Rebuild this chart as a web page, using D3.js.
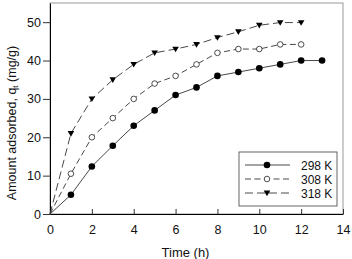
<!DOCTYPE html>
<html>
<head>
<meta charset="utf-8">
<script src="https://cdn.jsdelivr.net/npm/d3@7"></script>
<style>
  body { margin: 0; background: #fff; }
  svg { display: block; font-family: "Liberation Sans", Arial, sans-serif; }
</style>
</head>
<body>
<div id="chart"></div>
<script>
// Data
const time298 = [0, 1, 2, 3, 4, 5, 6, 7, 8, 9, 10, 11, 12, 13];
const q298 = [0, 5, 12.4, 17.8, 23, 27, 31, 33, 36, 37, 38, 39, 40, 40];
const time308 = [0, 1, 2, 3, 4, 5, 6, 7, 8, 9, 10, 11, 12];
const q308 = [0, 10.5, 20, 25, 30, 34, 36, 39, 42, 43, 43, 44.2, 44.2];
const time318 = [0, 1, 2, 3, 4, 5, 6, 7, 8, 9, 10, 11, 12];
const q318 = [0, 21, 30, 35, 39, 42, 43, 44.2, 46, 47.5, 49.2, 49.9, 49.9];
const seriesNames = ["298 K", "308 K", "318 K"];
const xTicks = [0, 2, 4, 6, 8, 10, 12, 14];
const yTicks = [0, 10, 20, 30, 40, 50];

const width = 352, height = 259;
const margin = { top: 3, right: 9, bottom: 45, left: 50 };
const w = width - margin.left - margin.right;
const h = height - margin.top - margin.bottom;

const svg = d3.select("#chart").append("svg")
    .attr("width", width)
    .attr("height", height);
const g = svg.append("g").attr("transform", `translate(${margin.left},${margin.top})`);

const x = d3.scaleLinear().domain([0, 14]).range([0, w]);
const y = d3.scaleLinear().domain([0, 55]).range([h, 0]);

// frame (top/right in grey)
g.append("rect")
    .attr("width", w).attr("height", h)
    .attr("fill", "none").attr("stroke", "#999").attr("stroke-width", 1);

const xAxis = g.append("g")
    .attr("transform", `translate(0,${h})`)
    .call(d3.axisBottom(x).tickValues(xTicks).tickSizeInner(-5).tickSizeOuter(0).tickPadding(11));
const yAxis = g.append("g")
    .call(d3.axisLeft(y).tickValues(yTicks).tickSizeInner(7).tickSizeOuter(0).tickPadding(2));

[xAxis, yAxis].forEach(a => {
    a.select(".domain").attr("stroke", "#000");
    a.selectAll(".tick line").attr("stroke", "#333");
    a.selectAll("text").attr("font-size", 12.5).attr("fill", "#111")
        .attr("font-family", "'Liberation Sans', Arial, sans-serif");
});

const series = [
    { name: seriesNames[0], t: time298, q: q298, dash: null, marker: "filled" },
    { name: seriesNames[1], t: time308, q: q308, dash: "6,3.5", marker: "open" },
    { name: seriesNames[2], t: time318, q: q318, dash: "8,4", marker: "tri" }
];

const line = d3.line().x(d => x(d[0])).y(d => y(d[1]));

function drawMarker(sel, type) {
    if (type === "filled") {
        sel.append("circle").attr("r", 3.3).attr("fill", "#000");
    } else if (type === "open") {
        sel.append("circle").attr("r", 2.8).attr("fill", "#fff").attr("stroke", "#222").attr("stroke-width", 0.8);
    } else {
        sel.append("path").attr("d", "M-3.3,-2.4L3.3,-2.4L0,3.2Z").attr("fill", "#000");
    }
}

series.forEach(s => {
    const pts = s.t.map((t, i) => [t, s.q[i]]);
    g.append("path")
        .datum(pts)
        .attr("d", line)
        .attr("fill", "none")
        .attr("stroke", "#333")
        .attr("stroke-width", 0.9)
        .attr("stroke-dasharray", s.dash);
    pts.slice(1).forEach(p => {
        const m = g.append("g").attr("transform", `translate(${x(p[0])},${y(p[1])})`);
        drawMarker(m, s.marker);
    });
});

// legend
const lg = g.append("g").attr("transform", `translate(${239 - margin.left},${152 - margin.top})`);
lg.append("rect").attr("width", 98).attr("height", 54)
    .attr("fill", "#fff").attr("stroke", "#555").attr("stroke-width", 0.9);
series.forEach((s, i) => {
    const yy = 13 + i * 14;
    lg.append("line")
        .attr("x1", 6).attr("x2", 51).attr("y1", yy).attr("y2", yy)
        .attr("stroke", "#333").attr("stroke-width", 0.9)
        .attr("stroke-dasharray", s.dash);
    const m = lg.append("g").attr("transform", `translate(28,${yy})`);
    drawMarker(m, s.marker);
    lg.append("text")
        .attr("x", 62).attr("y", yy + 4.5)
        .attr("font-size", 12).attr("fill", "#111")
        .text(s.name);
});

// axis titles
svg.append("text")
    .attr("x", margin.left + w / 2 - 11).attr("y", 257)
    .attr("text-anchor", "middle").attr("font-size", 13).attr("fill", "#111")
    .text("Time (h)");

const yt = svg.append("text")
    .attr("transform", `translate(16,${123}) rotate(-90)`)
    .attr("text-anchor", "middle").attr("font-size", 12.5).attr("fill", "#111");
yt.append("tspan").text("Amount adsorbed, q");
yt.append("tspan").attr("font-size", 8).attr("dy", 2).text("t");
yt.append("tspan").attr("dy", -2).text(" (mg/g)");
</script>
</body>
</html>
